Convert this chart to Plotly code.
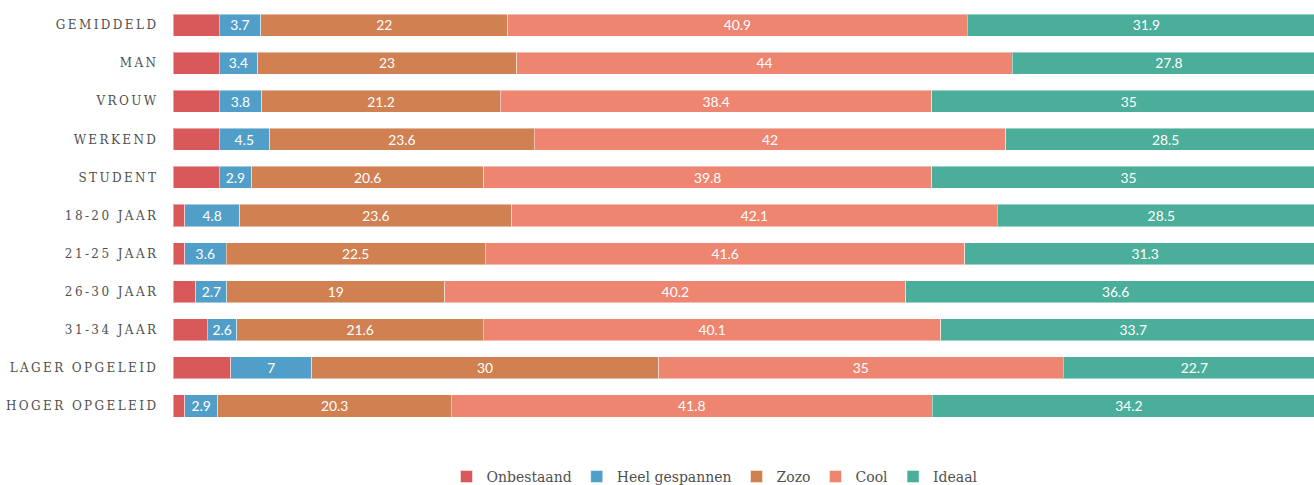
import plotly.graph_objects as go

categories = ["GEMIDDELD", "MAN", "VROUW", "WERKEND", "STUDENT", "18-20 JAAR",
              "21-25 JAAR", "26-30 JAAR", "31-34 JAAR", "LAGER OPGELEID", "HOGER OPGELEID"]
onbestaand = [4.1, 4.1, 4.1, 4.1, 4.1, 1.0, 1.0, 2.0, 3.0, 5.0, 1.0]
heel_gespannen = [3.7, 3.4, 3.8, 4.5, 2.9, 4.8, 3.6, 2.7, 2.6, 7, 2.9]
zozo = [22, 23, 21.2, 23.6, 20.6, 23.6, 22.5, 19, 21.6, 30, 20.3]
cool = [40.9, 44, 38.4, 42, 39.8, 42.1, 41.6, 40.2, 40.1, 35, 41.8]
ideaal = [31.9, 27.8, 35, 28.5, 35, 28.5, 31.3, 36.6, 33.7, 22.7, 34.2]

series = [
    ("Onbestaand", onbestaand, "#d9595b", False),
    ("Heel gespannen", heel_gespannen, "#519fc9", True),
    ("Zozo", zozo, "#d08051", True),
    ("Cool", cool, "#ed8571", True),
    ("Ideaal", ideaal, "#4aae9a", True),
]

def spaced(s):
    thin = "\u2009"
    return thin.join(" " if ch == " " else ch for ch in s)

tick_labels = [spaced(c) for c in categories]

fig = go.Figure()
for name, vals, color, show_text in series:
    fig.add_trace(go.Bar(
        y=categories, x=vals, name=name, orientation="h",
        marker=dict(color=color, line=dict(color="rgba(255,255,255,0.45)", width=1)),
        text=[f"{v:g}" for v in vals] if show_text else None,
        texttemplate="%{text}" if show_text else None,
        textposition="inside" if show_text else "none",
        insidetextanchor="middle",
        textangle=0,
        textfont=dict(family="Lato, Open Sans, sans-serif", size=15.5, color="white"),
        hoverinfo="skip",
    ))

fig.update_layout(
    barmode="stack",
    barnorm="percent",
    bargap=0.42,
    width=1314, height=485,
    margin=dict(l=173, r=0, t=6, b=60, autoexpand=False),
    paper_bgcolor="white", plot_bgcolor="white",
    uniformtext=dict(minsize=8, mode="show"),
    legend=dict(orientation="h", x=0.475, xanchor="center", y=-0.124, yanchor="middle",
                font=dict(family="DejaVu Serif, serif", size=14, color="#505050"),
                itemwidth=30, traceorder="normal"),
    showlegend=True,
)
fig.update_xaxes(range=[0, 99], visible=False, showgrid=False, zeroline=False, fixedrange=True)
fig.update_yaxes(autorange="reversed", tickmode="array", tickvals=categories, ticktext=tick_labels,
                 tickfont=dict(family="DejaVu Serif, serif", size=12, color="#505050"),
                 showgrid=False, zeroline=False, showline=False, ticks="", ticklabelstandoff=16)

fig.write_html("out.html", config={"displayModeBar": False},
               post_script="document.body.style.margin='0';document.body.style.overflow='hidden';")
